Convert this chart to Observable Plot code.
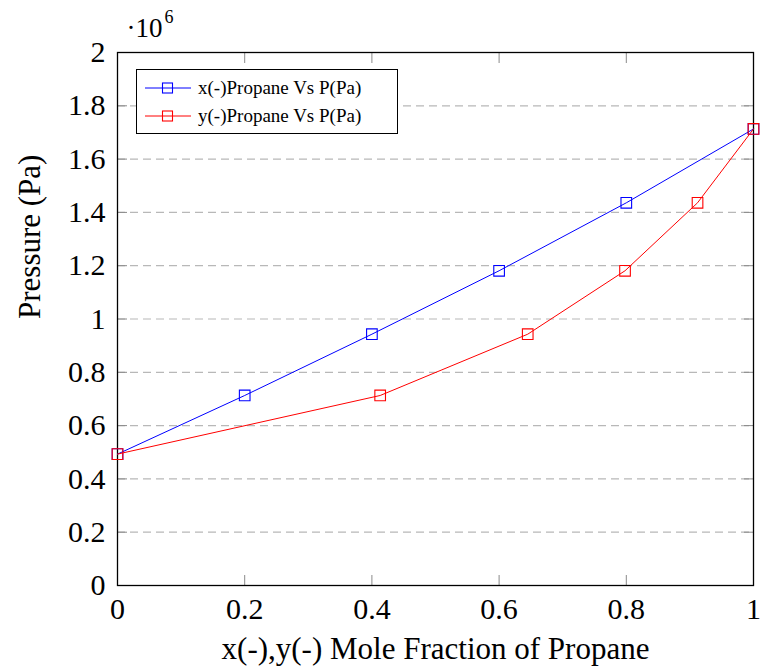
<!DOCTYPE html>
<html>
<head>
<meta charset="utf-8">
<script src="https://cdn.jsdelivr.net/npm/d3@7"></script>
<script src="https://cdn.jsdelivr.net/npm/@observablehq/plot@0.6"></script>
<style>
  html, body, body * { font-family: "Liberation Serif", "Times New Roman", serif !important; }
</style>
</head>
<body style="margin:0;background:#fff">
<div id="wrap" style="position:relative;width:761px;height:672px;"></div>
<script>
// Data (pressure in Pa)
const seriesNames = ["x(-)Propane Vs P(Pa)", "y(-)Propane Vs P(Pa)"];
const seriesColors = ["#0000ff", "#ff0000"];
const xLiquid = [0, 0.2, 0.4, 0.6, 0.8, 1];
const yVapor = [0, 0.413, 0.645, 0.798, 0.912, 1];
const pressure = [493000, 713000, 943000, 1181000, 1436000, 1713000];
const xTicks = [0, 0.2, 0.4, 0.6, 0.8, 1];
const yTicks = [0, 200000, 400000, 600000, 800000, 1000000, 1200000, 1400000, 1600000, 1800000, 2000000];
const xLabel = "x(-),y(-) Mole Fraction of Propane";
const yLabel = "Pressure (Pa)";

const liquid = xLiquid.map((x, i) => ({x, p: pressure[i]}));
const vapor = yVapor.map((x, i) => ({x, p: pressure[i]}));
const fmtY = d => String(+(d / 1e6).toFixed(1));
const fmtX = d => String(+d.toFixed(1));

const FONT = "Liberation Serif";
const CSSFONT = "'Liberation Serif', 'Times New Roman', serif";
const tickColor = "#8a8a8a";
const chart = Plot.plot({
  width: 761, height: 672,
  marginLeft: 117, marginRight: 8, marginTop: 52, marginBottom: 87,
  style: { fontFamily: CSSFONT, fontSize: "28px", background: "white", color: "black" },
  x: { domain: [0, 1] },
  y: { domain: [0, 2000000] },
  marks: [
    Plot.gridY(yTicks.slice(1, -1), { stroke: "#b8b8b8", strokeOpacity: 1, strokeDasharray: "8,5", strokeWidth: 1.2 }),
    // inward tick marks
    Plot.axisY(yTicks, { anchor: "left", tickSize: -10, tickFormat: () => "", label: null, stroke: tickColor }),
    Plot.axisY(yTicks, { anchor: "right", tickSize: -10, tickFormat: () => "", label: null, stroke: tickColor }),
    Plot.axisX(xTicks, { anchor: "bottom", tickSize: -10, tickFormat: () => "", label: null, stroke: tickColor }),
    Plot.axisX(xTicks, { anchor: "top", tickSize: -10, tickFormat: () => "", label: null, stroke: tickColor }),
    // tick labels
    Plot.axisY(yTicks, { anchor: "left", tickSize: 0, tickPadding: 12, tickFormat: fmtY, label: null, fontSize: 30, fontFamily: FONT }),
    Plot.axisX(xTicks, { anchor: "bottom", tickSize: 0, tickPadding: 12, tickFormat: fmtX, label: null, fontSize: 30, fontFamily: FONT }),
    Plot.frame({ stroke: "black", strokeWidth: 1.3 }),
    Plot.line(liquid, { x: "x", y: "p", stroke: seriesColors[0], strokeWidth: 1 }),
    Plot.dot(liquid, { x: "x", y: "p", symbol: "square", r: 6, stroke: seriesColors[0], fill: "none", strokeWidth: 1.1 }),
    Plot.line(vapor, { x: "x", y: "p", stroke: seriesColors[1], strokeWidth: 1 }),
    Plot.dot(vapor, { x: "x", y: "p", symbol: "square", r: 6, stroke: seriesColors[1], fill: "none", strokeWidth: 1.1 }),
    Plot.text([xLabel], { text: d => d, frameAnchor: "bottom", dy: 64, fontSize: 31, lineAnchor: "middle", fontFamily: FONT }),
    Plot.text([yLabel], { text: d => d, frameAnchor: "left", dx: -87, rotate: -90, fontSize: 31, lineAnchor: "middle", fontFamily: FONT }),
    Plot.text(["·10"], { text: d => d, frameAnchor: "top-left", dx: 9, dy: -24, fontSize: 27, textAnchor: "start", lineAnchor: "middle", fontFamily: FONT }),
    Plot.text(["6"], { text: d => d, frameAnchor: "top-left", dx: 47, dy: -35, fontSize: 18, textAnchor: "start", lineAnchor: "middle", fontFamily: FONT })
  ]
});
const wrap = document.getElementById("wrap");
wrap.appendChild(chart);

// legend overlay
const legend = document.createElement("div");
legend.setAttribute("style", "position:absolute;left:136px;top:69px;width:262px;height:65px;border:1px solid #000;background:#fff;box-sizing:border-box;");
seriesNames.forEach((name, i) => {
  const row = document.createElement("div");
  row.setAttribute("style", `position:absolute;left:0;top:${8 + i * 28}px;height:20px;display:flex;align-items:center;font-size:19px;white-space:nowrap;`);
  row.innerHTML = `<svg width="46" height="14" style="margin-left:8px;margin-right:7px"><line x1="0" y1="7" x2="46" y2="7" stroke="${seriesColors[i]}" stroke-width="1"/><rect x="17.5" y="2" width="10" height="10" fill="none" stroke="${seriesColors[i]}" stroke-width="1.1"/></svg><span>${name}</span>`;
  legend.appendChild(row);
});
wrap.appendChild(legend);

document.querySelectorAll("#wrap text, #wrap span, #wrap div").forEach(el => {
  el.style.setProperty("font-family", CSSFONT, "important");
  if (el.tagName.toLowerCase() === "text") el.setAttribute("font-family", FONT);
});
</script>
</body>
</html>
